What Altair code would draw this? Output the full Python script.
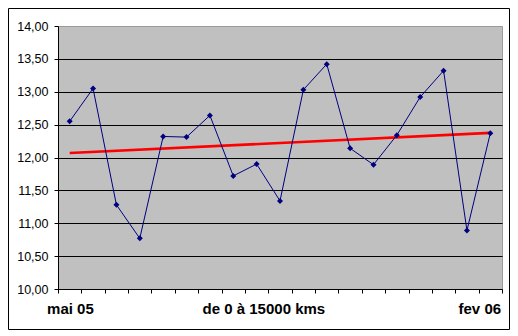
import altair as alt
import pandas as pd

# data
km_index = list(range(1, 20))
consumption = [12.55, 13.05, 11.28, 10.77, 12.32, 12.31, 12.64, 11.72, 11.90, 11.34,
               13.03, 13.42, 12.14, 11.89, 12.34, 12.92, 13.32, 10.89, 12.37]
y_ticks = [10.0, 10.5, 11.0, 11.5, 12.0, 12.5, 13.0, 13.5, 14.0]
x_ticks = [i + 0.5 for i in range(0, 20)]
label_text = ["mai 05", "de 0 à 15000 kms", "fev 06"]
label_pos = [1.03, 9.31, 18.55]

df = pd.DataFrame({"x": km_index, "y": consumption})
labels = pd.DataFrame({"pos": label_pos, "text": label_text})

FONT = "Liberation Sans"
W, H = 444, 263

xscale = alt.Scale(domain=[0.5, 19.5], nice=False, zero=False)
yscale = alt.Scale(domain=[10, 14], nice=False, zero=False)

xaxis = alt.Axis(values=x_ticks, labels=False, grid=False, ticks=True, tickSize=4,
                 tickColor="black", domainColor="black", title=None)
yaxis = alt.Axis(values=y_ticks, grid=True, gridColor="black",
                 gridOpacity={"condition": {"test": "datum.value == 14", "value": 0}, "value": 1},
                 tickSize=4, tickColor="black", domainColor="black",
                 labelExpr="replace(format(datum.value, '.2f'), '.', ',')",
                 labelFont=FONT, labelFontSize=12.5, labelColor="black", labelPadding=6,
                 labelOverlap=False, title=None)

X = alt.X("x:Q", scale=xscale, axis=xaxis)
Y = alt.Y("y:Q", scale=yscale, axis=yaxis)

base = alt.Chart(df)

line = base.mark_line(color="#000080", strokeWidth=1).encode(x=X, y=Y)

points = base.mark_point(shape="diamond", filled=True, color="#000080", size=36, opacity=1).encode(x=X, y=Y)

trend = base.transform_regression("x", "y", method="linear", extent=[1, 19]).mark_line(
    color="#FF0000", strokeWidth=2.6
).encode(x=X, y=Y)

text = alt.Chart(labels).mark_text(
    font=FONT, fontSize=15, fontWeight="bold", baseline="alphabetic", align="center", color="black"
).encode(
    x=alt.X("pos:Q", scale=xscale, axis=xaxis),
    y=alt.value(H + 25),
    text="text:N",
)

frame = alt.Chart(alt.Data(values=[{}])).mark_rect(
    fill="transparent", stroke="black", strokeWidth=1
).encode(
    x=alt.value(-49.5), x2=alt.value(451.5), y=alt.value(-17.5), y2=alt.value(303.5)
)

chart = alt.layer(trend, line, points, text, frame).properties(
    width=W, height=H,
    autosize=alt.AutoSizeParams(type="none"),
    padding={"left": 50, "top": 18, "right": 8, "bottom": 43},
    background="white",
).configure_view(fill="#C0C0C0", stroke="#9a9a9a", strokeWidth=1)

chart.save("out.html", embed_options={"renderer": "svg", "actions": False})
